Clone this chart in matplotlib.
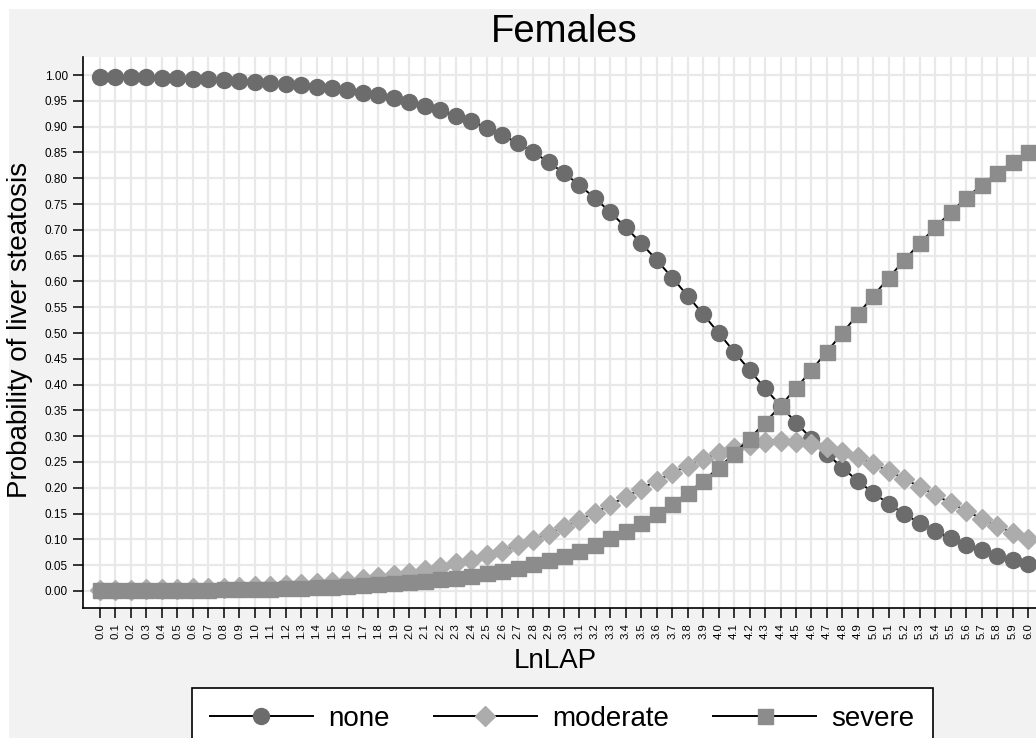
import matplotlib
matplotlib.use('Agg')
import matplotlib.pyplot as plt
from matplotlib.patches import Rectangle

plt.rcParams['font.family'] = ['Liberation Sans', 'DejaVu Sans']

# LnLAP values 0.0 .. 6.0
lnlap = [round(i * 0.1, 1) for i in range(61)]
tick_labels = ['%.1f' % v for v in lnlap]

none = [0.9970, 0.9965, 0.9960, 0.9953, 0.9946, 0.9938, 0.9928, 0.9917, 0.9904, 0.9890,
        0.9873, 0.9853, 0.9830, 0.9804, 0.9775, 0.9740, 0.9701, 0.9656, 0.9605, 0.9546,
        0.9479, 0.9402, 0.9315, 0.9216, 0.9105, 0.8980, 0.8839, 0.8682, 0.8507, 0.8313,
        0.8100, 0.7867, 0.7613, 0.7340, 0.7047, 0.6737, 0.6411, 0.6071, 0.5720, 0.5362,
        0.5000, 0.4638, 0.4280, 0.3929, 0.3589, 0.3263, 0.2953, 0.2660, 0.2387, 0.2133,
        0.1900, 0.1687, 0.1493, 0.1318, 0.1161, 0.1020, 0.0895, 0.0785, 0.0685, 0.0596,
        0.0530]

moderate = [0.0021, 0.0024, 0.0027, 0.0032, 0.0037, 0.0042, 0.0049, 0.0057, 0.0066, 0.0075,
            0.0087, 0.0100, 0.0116, 0.0134, 0.0153, 0.0177, 0.0203, 0.0234, 0.0268, 0.0310,
            0.0355, 0.0408, 0.0468, 0.0534, 0.0608, 0.0690, 0.0782, 0.0882, 0.0992, 0.1112,
            0.1240, 0.1376, 0.1520, 0.1670, 0.1825, 0.1982, 0.2138, 0.2288, 0.2430, 0.2560,
            0.2672, 0.2765, 0.2835, 0.2880, 0.2900, 0.2890, 0.2850, 0.2785, 0.2700, 0.2590,
            0.2465, 0.2325, 0.2175, 0.2020, 0.1862, 0.1705, 0.1552, 0.1402, 0.1262, 0.1132,
            0.1010]

severe = [0.0010, 0.0011, 0.0013, 0.0015, 0.0017, 0.0020, 0.0023, 0.0026, 0.0030, 0.0035,
          0.0040, 0.0047, 0.0054, 0.0062, 0.0072, 0.0083, 0.0096, 0.0111, 0.0128, 0.0147,
          0.0170, 0.0196, 0.0225, 0.0260, 0.0299, 0.0344, 0.0395, 0.0454, 0.0522, 0.0598,
          0.0685, 0.0784, 0.0895, 0.1020, 0.1161, 0.1318, 0.1493, 0.1687, 0.1900, 0.2133,
          0.2387, 0.2660, 0.2953, 0.3263, 0.3589, 0.3929, 0.4280, 0.4638, 0.5000, 0.5362,
          0.5720, 0.6071, 0.6411, 0.6737, 0.7047, 0.7340, 0.7613, 0.7867, 0.8100, 0.8313,
          0.8507]

y_ticks = [round(i * 0.05, 2) for i in range(21)]

W, H = 1036, 738
fig = plt.figure(figsize=(W / 100, H / 100), dpi=100, facecolor='white')
# grey background with thin white border top / left
bg = Rectangle((9 / W, -0.1), 1.2, 1.1 - 9 / H, transform=fig.transFigure,
               facecolor='#f2f2f2', edgecolor='none', zorder=-10)
fig.patches.append(bg)

# axes placed in pixels
left, right, top, bottom = 83, 1045, 57, 608
ax = fig.add_axes([left / W, 1 - bottom / H, (right - left) / W, (bottom - top) / H])
ax.set_facecolor('white')

ax.plot(lnlap, none, color='black', lw=1.4, marker='o', markersize=11.5,
        markerfacecolor='#6c6c6c', markeredgecolor='#6c6c6c', label='none', zorder=3)
ax.plot(lnlap, moderate, color='black', lw=1.4, marker='D', markersize=9.8,
        markerfacecolor='#acacac', markeredgecolor='#acacac', label='moderate', zorder=4)
ax.plot(lnlap, severe, color='black', lw=1.4, marker='s', markersize=10.8,
        markerfacecolor='#8c8c8c', markeredgecolor='#8c8c8c', label='severe', zorder=5)

ax.set_xlim(-0.11, 6.11)
ax.set_ylim(-0.033, 1.035)
ax.set_xticks(lnlap)
ax.set_xticklabels(tick_labels, rotation=90, fontsize=8.2)
ax.set_yticks(y_ticks)
ax.set_yticklabels(['%.2f' % v for v in y_ticks], fontsize=8.5)
ax.tick_params(axis='both', direction='out', length=7.5, width=1.1, color='black', pad=3.5)
ax.grid(True, color='#e9e9e9', lw=1.6)
ax.set_axisbelow(True)
for s in ['top', 'right']:
    ax.spines[s].set_visible(False)
for s in ['left', 'bottom']:
    ax.spines[s].set_linewidth(1.2)
    ax.spines[s].set_color('black')

fig.text(564 / W, 1 - 42 / H, 'Females', ha='center', va='baseline', fontsize=27.5)
fig.text(20 / W, 1 - 330 / H, 'Probability of liver steatosis', rotation=90,
         ha='center', va='center', fontsize=20)
fig.text(555 / W, 1 - 668 / H, 'LnLAP', ha='center', va='baseline', fontsize=20)

leg = fig.legend(loc='upper left', bbox_to_anchor=(192 / W, 1 - 688 / H), ncol=3,
                 fontsize=20, frameon=True, fancybox=False, handlelength=3.7,
                 handletextpad=0.55, columnspacing=1.6, borderpad=0.65, borderaxespad=0)
leg.get_frame().set_edgecolor('black')
leg.get_frame().set_linewidth(1.2)
leg.get_frame().set_facecolor('white')
leg.get_frame().set_alpha(1)

fig.savefig('out.png', dpi=100, facecolor=fig.get_facecolor())
